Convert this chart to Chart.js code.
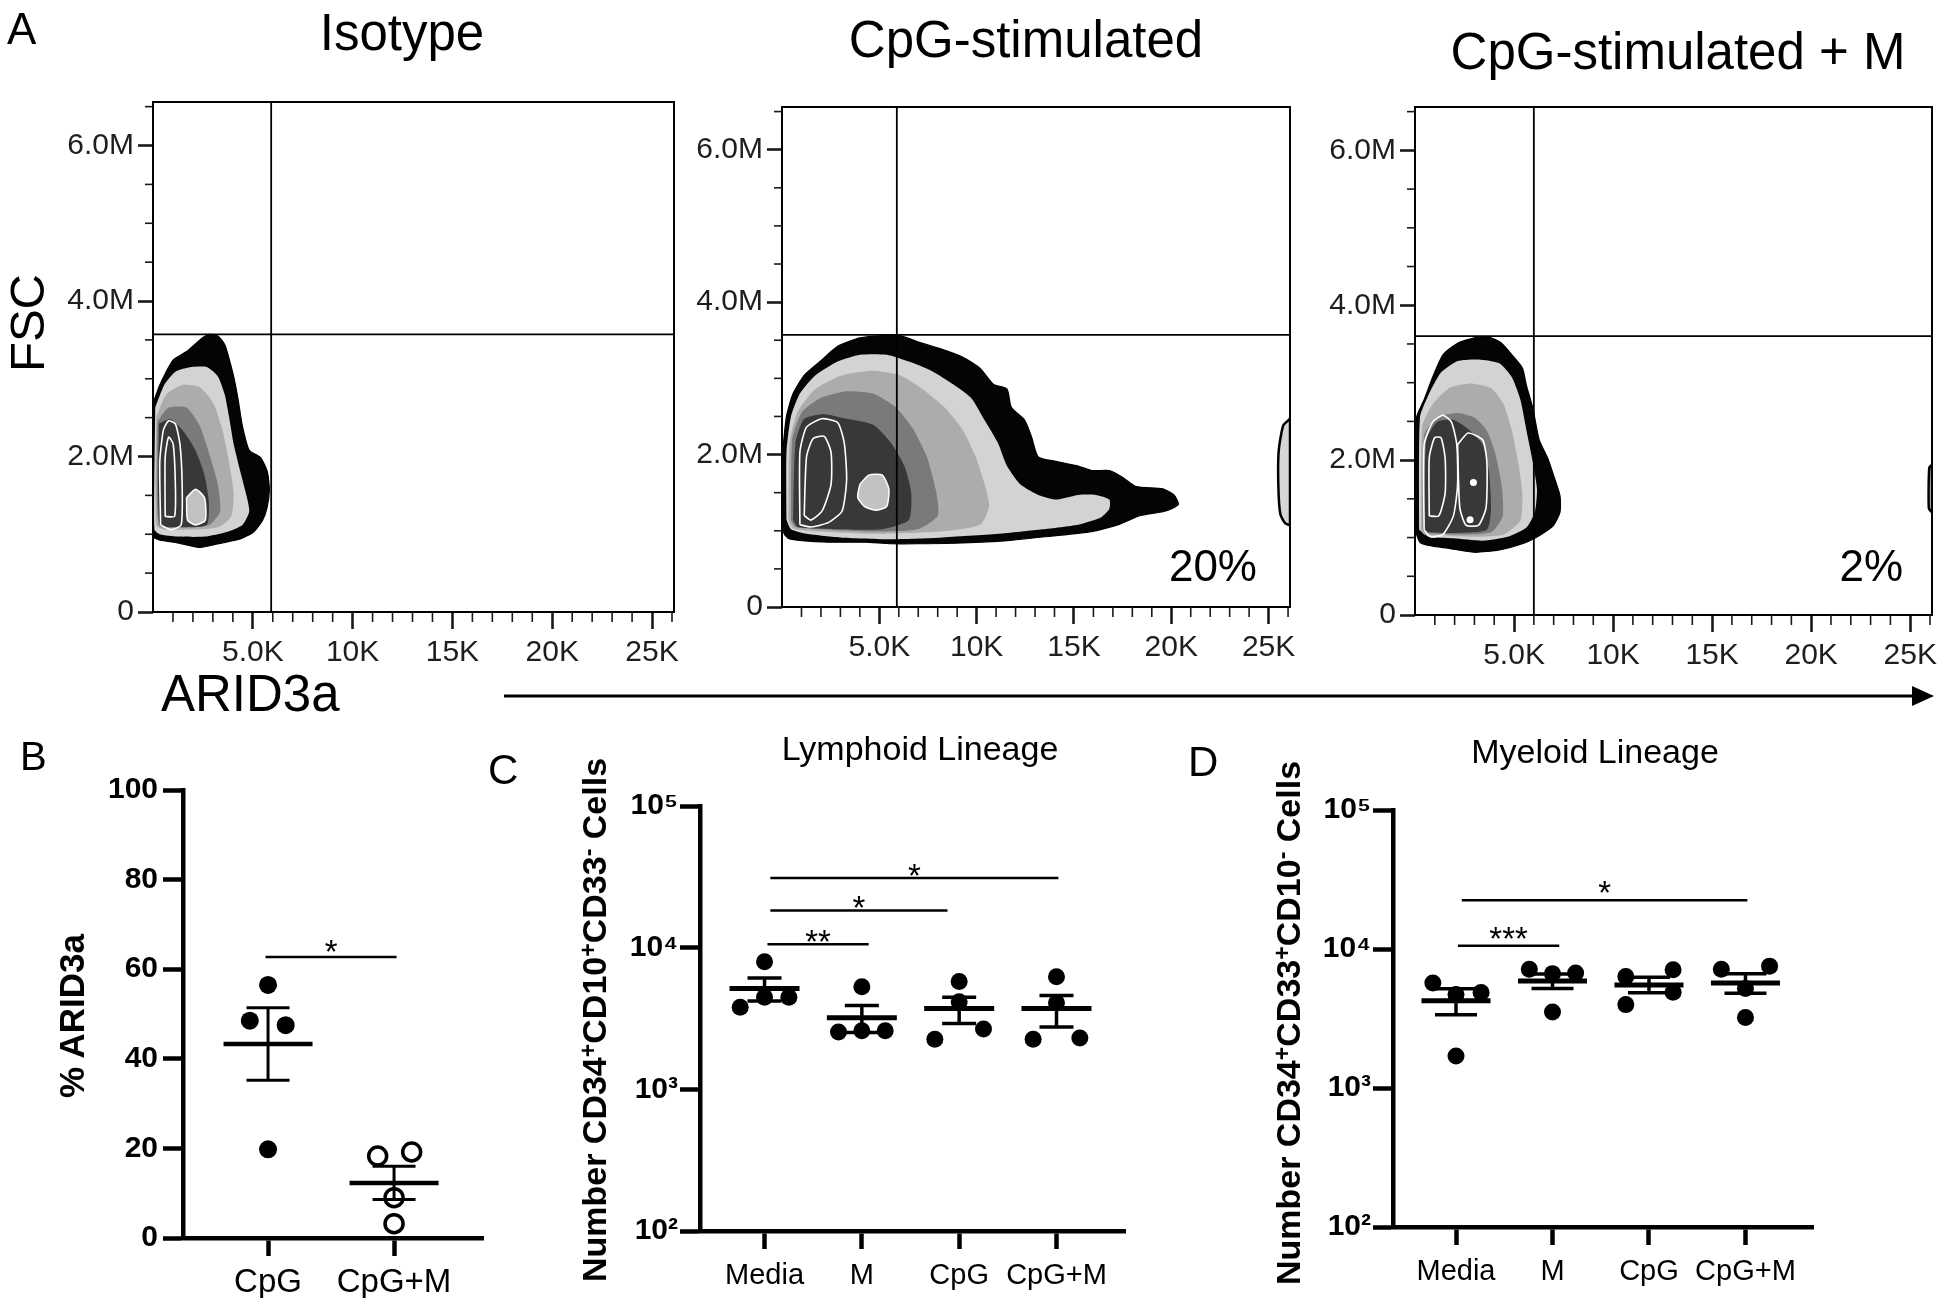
<!DOCTYPE html>
<html>
<head>
<meta charset="utf-8">
<script src="https://cdn.jsdelivr.net/npm/chart.js@4.4.1/dist/chart.umd.min.js"></script>
<style>
html,body{margin:0;padding:0;background:#fff;}
#page{position:relative;width:1950px;height:1304px;overflow:hidden;background:#fff;font-family:"Liberation Sans",Arial,Helvetica,sans-serif;}
canvas{position:absolute;z-index:1;}
.t{position:absolute;line-height:1;white-space:nowrap;color:#000;z-index:5;}
.sup{position:relative;top:-0.45em;font-size:0.68em;line-height:0;}
svg{position:absolute;left:0;top:0;z-index:4;pointer-events:none;}
</style>
</head>
<body>
<div id="page">
<canvas id="a1"></canvas><canvas id="a2"></canvas><canvas id="a3"></canvas>
<canvas id="b"></canvas><canvas id="c"></canvas><canvas id="d"></canvas>
<svg width="1950" height="1304"><line x1="504" y1="696" x2="1918" y2="696" stroke="#000" stroke-width="3"/><polygon points="1934,696 1912,686 1912,706" fill="#000"/></svg>
</div>
<script>
// ================= DATA =================
// Panel A (flow plots): axes
const aridTicks = [5, 10, 15, 20, 25];
const aridTickLabels = ['5.0K', '10K', '15K', '20K', '25K'];
const fscTicks = [0, 2, 4, 6];
const fscTickLabels = ['0', '2.0M', '4.0M', '6.0M'];
const aridMax = 26.1;   // K
const fscMax = 6.56;    // M
const gateArid = [5.92, 5.9, 6.0];
const gateFsc = [3.57, 3.57, 3.6];

// Isotype contours [ARID3a (K), FSC (M)]
const isoBlack = [[0,2.68],[0.34,2.92],[1.01,3.24],[1.68,3.35],[2.35,3.50],[2.80,3.57],[3.25,3.55],[3.59,3.44],[3.81,3.26],[4.04,3.03],[4.26,2.74],[4.48,2.39],[4.82,2.08],[5.38,1.99],[5.72,1.81],[5.83,1.58],[5.72,1.35],[5.49,1.18],[5.04,1.03],[4.37,0.94],[3.48,0.89],[2.35,0.83],[1.23,0.89],[0.45,0.92],[0,0.97]];
const isoL1 = [[0.11,2.63],[0.56,2.92],[1.12,3.09],[1.91,3.15],[2.69,3.15],[3.25,3.03],[3.59,2.80],[3.81,2.51],[4.04,2.16],[4.37,1.81],[4.71,1.47],[4.82,1.29],[4.48,1.12],[3.70,1.03],[2.58,0.97],[1.23,0.97],[0.34,1.00],[0.07,1.06]];
const isoL2 = [[0.16,2.51],[0.67,2.80],[1.46,2.92],[2.35,2.89],[3.03,2.68],[3.48,2.34],[3.81,1.93],[4.04,1.52],[3.92,1.23],[3.25,1.09],[1.91,1.06],[0.56,1.06],[0.16,1.12]];
const isoL3 = [[0.22,2.45],[0.78,2.63],[1.68,2.63],[2.35,2.39],[2.80,2.05],[3.25,1.64],[3.36,1.29],[2.80,1.12],[1.23,1.09],[0.29,1.12]];
const isoL4 = [[0.29,2.42],[0.90,2.48],[1.57,2.31],[2.13,2.08],[2.58,1.76],[2.80,1.41],[2.69,1.12],[1.23,1.09],[0.34,1.12]];
const isoW1 = [[0.38,1.12],[0.34,1.93],[0.52,2.34],[0.78,2.46],[1.12,2.42],[1.35,2.16],[1.46,1.64],[1.41,1.12],[0.90,1.06]];
const isoW2 = [[0.61,1.23],[0.61,1.99],[0.78,2.25],[1.01,2.16],[1.12,1.64],[1.08,1.23]];
const isoBlob = [[1.68,1.47],[2.13,1.58],[2.58,1.47],[2.62,1.18],[2.13,1.12],[1.73,1.18]];

// CpG-stimulated contours
const cpgBlack = [[0.05,1.08],[0.05,2.03],[0.23,2.50],[0.57,2.80],[1.14,3.04],[1.95,3.22],[2.86,3.42],[4.00,3.53],[5.15,3.56],[6.06,3.56],[6.98,3.48],[8.12,3.39],[9.27,3.28],[10.18,3.13],[10.87,2.92],[11.56,2.86],[11.78,2.62],[12.47,2.45],[12.81,2.24],[13.16,1.97],[14.07,1.91],[15.22,1.85],[15.90,1.79],[16.82,1.79],[17.51,1.70],[18.19,1.58],[19.57,1.55],[20.14,1.47],[20.37,1.35],[20.02,1.29],[19.57,1.25],[18.42,1.20],[17.28,1.08],[15.90,0.99],[13.84,0.93],[11.56,0.87],[9.27,0.84],[6.98,0.83],[5.61,0.83],[4.23,0.85],[2.40,0.85],[1.03,0.87],[0.34,0.90],[0.11,0.96]];
const cpgL1 = [[0.23,1.14],[0.23,2.03],[0.46,2.50],[0.92,2.80],[1.72,3.04],[2.86,3.22],[4.00,3.31],[5.38,3.31],[6.52,3.22],[7.67,3.10],[8.81,2.92],[9.73,2.74],[10.41,2.45],[11.10,2.15],[11.56,1.85],[12.24,1.61],[13.16,1.47],[14.07,1.41],[15.22,1.47],[16.13,1.47],[16.82,1.41],[16.82,1.29],[16.36,1.17],[15.22,1.08],[13.39,1.02],[11.10,0.96],[8.12,0.91],[5.61,0.89],[3.09,0.91],[1.26,0.96],[0.46,1.02]];
const cpgL2 = [[0.34,1.14],[0.39,2.15],[0.80,2.56],[1.72,2.86],[3.09,3.04],[4.69,3.10],[6.06,3.04],[7.21,2.86],[8.35,2.62],[9.27,2.33],[9.95,1.97],[10.41,1.61],[10.64,1.32],[10.18,1.08],[8.12,0.99],[4.69,0.96],[1.95,0.99],[0.57,1.03]];
const cpgL3 = [[0.46,1.14],[0.53,2.21],[1.03,2.56],[1.95,2.74],[3.32,2.83],[4.69,2.80],[5.84,2.62],[6.75,2.33],[7.44,1.97],[7.89,1.55],[8.01,1.20],[6.98,1.02],[4.69,0.99],[1.95,1.02],[0.69,1.05]];
const cpgL4 = [[0.57,1.14],[0.69,2.15],[1.14,2.47],[2.17,2.53],[3.32,2.47],[4.69,2.39],[5.61,2.15],[6.29,1.85],[6.64,1.50],[6.52,1.14],[5.15,1.02],[2.86,1.02],[0.80,1.05]];
const cpgW1 = [[0.92,1.08],[0.92,2.03],[1.26,2.36],[2.06,2.47],[2.86,2.42],[3.20,2.15],[3.32,1.67],[3.09,1.26],[2.40,1.11],[1.49,1.05]];
const cpgW2 = [[1.14,1.20],[1.26,1.97],[1.60,2.21],[2.17,2.24],[2.52,2.03],[2.52,1.61],[2.06,1.26],[1.49,1.14]];
const cpgBlob = [[4.00,1.61],[4.46,1.73],[5.15,1.73],[5.49,1.55],[5.38,1.32],[4.81,1.27],[4.23,1.32],[3.89,1.44]];
const cpgEdge = [[26.1,2.47],[25.75,2.38],[25.52,2.05],[25.5,1.6],[25.6,1.22],[25.85,1.1],[26.1,1.08]];

// CpG-stimulated + M contours
const cpgmBlack = [[0.08,1.04],[0.08,2.55],[0.46,2.78],[0.89,3.07],[1.41,3.36],[2.15,3.51],[3.00,3.58],[3.73,3.59],[4.37,3.51],[4.89,3.36],[5.42,3.19],[5.63,2.96],[5.95,2.67],[6.27,2.26],[6.69,2.03],[7.00,1.80],[7.32,1.54],[7.32,1.33],[7.00,1.16],[6.37,1.04],[5.53,0.93],[4.26,0.84],[3.00,0.81],[1.73,0.86],[0.68,0.90],[0.25,0.94]];
const cpgmL1 = [[0.21,1.10],[0.25,2.55],[0.68,2.84],[1.31,3.13],[2.15,3.28],[3.21,3.30],[4.26,3.25],[4.89,3.07],[5.32,2.78],[5.63,2.38],[5.95,1.97],[6.16,1.62],[6.05,1.33],[5.63,1.13],[4.68,1.01],[3.42,0.96],[1.94,0.99],[0.68,1.01]];
const cpgmL2 = [[0.30,1.10],[0.36,2.43],[0.89,2.72],[1.73,2.93],[2.78,2.99],[3.84,2.93],[4.47,2.72],[4.89,2.38],[5.21,1.97],[5.42,1.57],[5.32,1.22],[4.47,1.04],[3.00,1.01],[1.31,1.03],[0.46,1.04]];
const cpgmL3 = [[0.38,1.10],[0.46,2.32],[1.10,2.55],[2.15,2.61],[3.00,2.55],[3.63,2.38],[4.05,2.09],[4.37,1.68],[4.43,1.28],[3.84,1.07],[2.15,1.04],[0.57,1.06]];
const cpgmL4 = [[0.46,1.10],[0.57,2.26],[1.10,2.49],[1.94,2.52],[2.78,2.38],[3.42,2.20],[3.73,1.86],[3.84,1.39],[3.63,1.10],[2.15,1.06],[0.68,1.07]];
const cpgmW1 = [[0.46,1.10],[0.46,2.20],[0.89,2.49],[1.41,2.58],[1.84,2.49],[2.11,2.20],[2.15,1.68],[1.94,1.28],[1.41,1.04],[0.78,1.01]];
const cpgmW2 = [[0.72,1.28],[0.72,2.03],[0.99,2.29],[1.31,2.29],[1.52,2.03],[1.52,1.57],[1.20,1.28]];
const cpgmW3 = [[2.15,2.20],[2.68,2.35],[3.42,2.26],[3.63,1.97],[3.59,1.39],[3.21,1.16],[2.57,1.16],[2.26,1.39]];
const cpgmDots = [[2.95,1.71],[2.78,1.23]];
const cpgmEdge = [[26.1,1.94],[25.96,1.90],[25.94,1.38],[26.1,1.33]];

// Panel B: % ARID3a
const bGroups = ['CpG', 'CpG+M'];
const bTicks = [0, 20, 40, 60, 80, 100];
const bCpG = [56.5, 48.5, 47.5, 19.8];
const bCpGJitter = [0, -0.145, 0.14, 0];
const bCpGM = [18.3, 19.2, 9.0, 3.2];
const bCpGMJitter = [-0.13, 0.14, 0, 0];
const bMean = [43.3, 12.3];
const bSemHi = [51.4, 16.0];
const bSemLo = [35.2, 8.6];
const bSigFrom = [-0.02], bSigTo = [1.02], bSigY = [62.7], bSigLabel = ['*'];

// Panel C: Lymphoid lineage (cells)
const cdGroups = ['Media', 'M', 'CpG', 'CpG+M'];
const cdTicks = [100, 1000, 10000, 100000];
const cdTickLabels = ['10\u00B2', '10\u00B3', '10\u2074', '10\u2075'];
const cMedia = [7940, 3790, 4470, 4470];
const cM = [5290, 2540, 2590, 2590];
const cCpG = [5770, 4150, 2260, 2670];
const cCpGM = [6230, 4080, 2260, 2300];
const cJitter = [[0, -0.25, 0, 0.25], [0, -0.24, 0, 0.24], [0, 0, -0.25, 0.25], [0, 0, -0.24, 0.24]];
const cMean = [5140, 3200, 3720, 3720];
const cSemHi = [6120, 3910, 4470, 4600];
const cSemLo = [4210, 2520, 2920, 2750];
const cSigFrom = [0.03, 0.06, 0.06], cSigTo = [1.07, 1.88, 3.02], cSigY = [10570, 18330, 31050], cSigLabel = ['**', '*', '*'];

// Panel D: Myeloid lineage (cells)
const dMedia = [5700, 4710, 4860, 1700];
const dM = [7160, 6650, 6730, 3520];
const dCpG = [6340, 7080, 4890, 3980];
const dCpGM = [7160, 7530, 5200, 3210];
const dJitter = [[-0.24, 0, 0.26, 0], [-0.24, 0, 0.24, 0], [-0.24, 0.25, 0.25, -0.24], [-0.25, 0.25, 0, 0]];
const dMean = [4240, 5880, 5500, 5700];
const dSemHi = [5170, 6610, 6250, 6650];
const dSemLo = [3370, 5200, 4850, 4800];
const dSigFrom = [0.02, 0.06], dSigTo = [1.07, 3.02], dSigY = [10570, 22440], dSigLabel = ['***', '*'];

// ================= RENDERING =================
Chart.defaults.font.family = '"Liberation Sans", Arial, Helvetica, sans-serif';
Chart.defaults.animation = false;
Chart.defaults.plugins.legend.display = false;
Chart.defaults.plugins.tooltip.enabled = false;

const page = document.getElementById('page');

function setupCanvas(id, r) {
  const c = document.getElementById(id);
  c.width = r.w; c.height = r.h;
  c.style.left = r.x + 'px'; c.style.top = r.y + 'px';
  c.style.width = r.w + 'px'; c.style.height = r.h + 'px';
  return c;
}

function poly(pts, fill, stroke, bw, order, doFill) {
  return {
    type: 'line',
    data: pts.concat([pts[0]]).map(p => ({x: p[0], y: p[1]})),
    backgroundColor: fill, borderColor: stroke, borderWidth: bw,
    fill: doFill ? 'shape' : false, pointRadius: 0, tension: 0.2, order: order
  };
}

function strokeLine(ctx, x1, y1, x2, y2) { ctx.beginPath(); ctx.moveTo(x1, y1); ctx.lineTo(x2, y2); ctx.stroke(); }

const flowDecor = {
  id: 'flowDecor',
  afterDraw(chart) {
    const {ctx, chartArea: a, scales: {x, y}} = chart;
    ctx.save();
    ctx.strokeStyle = '#000'; ctx.lineWidth = 2;
    ctx.strokeRect(a.left, a.top, a.right - a.left, a.bottom - a.top);
    ctx.strokeStyle = '#1a1a1a'; ctx.lineWidth = 1.6;
    for (let v = 1; v <= aridMax; v += 1) {
      if (v % 5 === 0) continue;
      const px = x.getPixelForValue(v);
      strokeLine(ctx, px, a.bottom, px, a.bottom + 10);
    }
    for (let v = 0.5; v <= fscMax; v += 0.5) {
      if (v % 2 === 0) continue;
      const py = y.getPixelForValue(v);
      strokeLine(ctx, a.left, py, a.left - 8, py);
    }
    ctx.restore();
  }
};

function flowChart(id, rect, box, parts, gX, gY) {
  const c = setupCanvas(id, rect);
  const padL = 6, padB = 6;
  const wy = box.left - rect.x - padL;
  const hx = rect.y + rect.h - box.bottom - padB;
  const ds = [];
  const levels = [['black', '#040404', '#000', 1.2, 10], ['l1', '#d3d3d3', '#d3d3d3', 0, 9], ['l2', '#acacac', '#acacac', 0, 8], ['l3', '#7a7a7a', '#7a7a7a', 0, 7], ['l4', '#383838', '#383838', 0, 6]];
  levels.forEach(L => { if (parts[L[0]]) ds.push(poly(parts[L[0]], L[1], L[2], L[3], L[4], true)); });
  (parts.blobs || []).forEach(b => ds.push(poly(b, '#c2c2c2', '#ffffff', 1.5, 5, true)));
  (parts.loops || []).forEach(l => ds.push(poly(l, 'rgba(0,0,0,0)', '#ffffff', 1.6, 4, false)));
  (parts.edges || []).forEach(e => ds.push(poly(e, '#d6d6d6', '#000', 2.5, 5, true)));
  if (parts.dots) ds.push({type: 'scatter', data: parts.dots.map(p => ({x: p[0], y: p[1]})), pointRadius: 3.5, backgroundColor: '#fff', borderWidth: 0, order: 3});
  ds.push({type: 'line', data: [{x: gX, y: 0}, {x: gX, y: fscMax}], borderColor: '#000', borderWidth: 1.8, pointRadius: 0, fill: false, order: -5});
  ds.push({type: 'line', data: [{x: 0, y: gY}, {x: aridMax, y: gY}], borderColor: '#000', borderWidth: 1.8, pointRadius: 0, fill: false, order: -5});
  new Chart(c, {
    type: 'scatter',
    data: {datasets: ds},
    options: {
      responsive: false, devicePixelRatio: 1, events: [],
      layout: {autoPadding: false, padding: {left: padL, top: box.top - rect.y, right: rect.x + rect.w - box.right, bottom: padB}},
      scales: {
        x: {
          type: 'linear', min: 0, max: aridMax,
          afterBuildTicks: s => { s.ticks = aridTicks.map(v => ({value: v})); },
          afterFit: s => { s.height = hx; },
          ticks: {callback: (v, i) => aridTickLabels[i], font: {size: 30}, color: '#1e1e1e', padding: 6, autoSkip: false, maxRotation: 0},
          grid: {drawOnChartArea: false, drawTicks: true, tickLength: 17, tickWidth: 2.6, tickColor: '#1a1a1a'},
          border: {display: false}
        },
        y: {
          type: 'linear', min: 0, max: fscMax,
          afterBuildTicks: s => { s.ticks = fscTicks.map(v => ({value: v})); },
          afterFit: s => { s.width = wy; },
          ticks: {callback: (v, i) => fscTickLabels[i], font: {size: 30}, color: '#1e1e1e', padding: 4, autoSkip: false},
          grid: {drawOnChartArea: false, drawTicks: true, tickLength: 15, tickWidth: 2.6, tickColor: '#1a1a1a'},
          border: {display: false}
        }
      }
    },
    plugins: [flowDecor]
  });
}

flowChart('a1', {x: 50, y: 80, w: 650, h: 600}, {left: 153, top: 92, right: 674, bottom: 612},
  {black: isoBlack, l1: isoL1, l2: isoL2, l3: isoL3, l4: isoL4, blobs: [isoBlob], loops: [isoW1, isoW2]}, gateArid[0], gateFsc[0]);
flowChart('a2', {x: 685, y: 85, w: 635, h: 590}, {left: 782, top: 99, right: 1290, bottom: 607},
  {black: cpgBlack, l1: cpgL1, l2: cpgL2, l3: cpgL3, l4: cpgL4, blobs: [cpgBlob], loops: [cpgW1, cpgW2], edges: [cpgEdge]}, gateArid[1], gateFsc[1]);
flowChart('a3', {x: 1318, y: 85, w: 632, h: 595}, {left: 1415, top: 99, right: 1932, bottom: 615},
  {black: cpgmBlack, l1: cpgmL1, l2: cpgmL2, l3: cpgmL3, l4: cpgmL4, loops: [cpgmW1, cpgmW2, cpgmW3], dots: cpgmDots, edges: [cpgmEdge]}, gateArid[2], gateFsc[2]);

function statsPlugin(cfg) {
  return {
    id: 'stats',
    afterDatasetsDraw(chart) {
      const {ctx, scales: {x, y}} = chart;
      ctx.save(); ctx.strokeStyle = '#000'; ctx.lineCap = 'butt';
      cfg.mean.forEach((m, i) => {
        const px = x.getPixelForValue(i);
        const pm = y.getPixelForValue(m), ph = y.getPixelForValue(cfg.hi[i]), pl = y.getPixelForValue(cfg.lo[i]);
        ctx.lineWidth = cfg.semW;
        strokeLine(ctx, px, ph, px, pl);
        strokeLine(ctx, px - cfg.capHalf, ph, px + cfg.capHalf, ph);
        strokeLine(ctx, px - cfg.capHalf, pl, px + cfg.capHalf, pl);
        ctx.lineWidth = cfg.meanW;
        strokeLine(ctx, px - cfg.meanHalf, pm, px + cfg.meanHalf, pm);
      });
      ctx.lineWidth = 2.5;
      ctx.fillStyle = '#000';
      ctx.font = '33px "Liberation Sans", Arial, sans-serif';
      ctx.textAlign = 'center'; ctx.textBaseline = 'alphabetic';
      cfg.sigY.forEach((v, i) => {
        const x1 = x.getPixelForValue(cfg.sigFrom[i]), x2 = x.getPixelForValue(cfg.sigTo[i]);
        const py = y.getPixelForValue(v);
        strokeLine(ctx, x1, py, x2, py);
        ctx.fillText(cfg.sigLabel[i], (x1 + x2) / 2, py + 19 - cfg.starRaise);
      });
      ctx.restore();
    }
  };
}

function dotChart(id, rect, box, cfg) {
  const c = setupCanvas(id, rect);
  const padL = 10;
  const wy = box.left - rect.x - padL;
  const hx = rect.y + rect.h - box.bottom - cfg.padB;
  const yScale = {
    type: cfg.yType, min: cfg.yMin, max: cfg.yMax,
    afterBuildTicks: s => { s.ticks = cfg.yTicks.map(v => ({value: v})); },
    afterFit: s => { s.width = wy; },
    ticks: {callback: (v, i) => cfg.yLabels[i], font: {size: 30, weight: 'bold'}, color: '#000', padding: cfg.yPad, autoSkip: false},
    grid: {drawOnChartArea: false, drawTicks: true, tickLength: 20, tickWidth: 4.5, tickColor: '#000'},
    border: {display: true, width: 4.5, color: '#000'}
  };
  new Chart(c, {
    type: 'scatter',
    data: {datasets: cfg.datasets},
    options: {
      responsive: false, devicePixelRatio: 1, events: [],
      layout: {autoPadding: false, padding: {left: padL, top: box.top - rect.y, right: rect.x + rect.w - box.right, bottom: cfg.padB}},
      scales: {
        x: {
          type: 'linear', min: cfg.xMin, max: cfg.xMax,
          afterBuildTicks: s => { s.ticks = cfg.groups.map((g, i) => ({value: i})); },
          afterFit: s => { s.height = hx; },
          ticks: {callback: (v, i) => cfg.groups[i], font: {size: cfg.xFont}, color: '#000', padding: cfg.xPad, autoSkip: false, maxRotation: 0},
          grid: {drawOnChartArea: false, drawTicks: true, tickLength: 18, tickWidth: 4.5, tickColor: '#000'},
          border: {display: true, width: 4.5, color: '#000'}
        },
        y: yScale
      }
    },
    plugins: [statsPlugin(cfg)]
  });
}

function pts(vals, jit, gi) { return vals.map((v, i) => ({x: gi + jit[i], y: v})); }
function filled(data, r) { return {data: data, pointRadius: r, backgroundColor: '#000', borderColor: '#000', borderWidth: 0}; }

dotChart('b', {x: 0, y: 755, w: 520, h: 549}, {left: 183, top: 790, right: 483, bottom: 1238}, {
  groups: bGroups, yType: 'linear', yMin: 0, yMax: 100, yTicks: bTicks, yLabels: bTicks.map(String), yPad: 5,
  xMin: -0.675, xMax: 1.706, xFont: 33, xPad: 7, padB: 6,
  datasets: [
    filled(pts(bCpG, bCpGJitter, 0), 9),
    {data: pts(bCpGM, bCpGMJitter, 1), pointRadius: 9, backgroundColor: '#fff', borderColor: '#000', borderWidth: 3.5}
  ],
  mean: bMean, hi: bSemHi, lo: bSemLo, meanHalf: 44.5, capHalf: 21.5, meanW: 4.5, semW: 3,
  sigFrom: bSigFrom, sigTo: bSigTo, sigY: bSigY, sigLabel: bSigLabel, starRaise: 13
});

dotChart('c', {x: 600, y: 770, w: 560, h: 534}, {left: 700, top: 806, right: 1125, bottom: 1231}, {
  groups: cdGroups, yType: 'logarithmic', yMin: 100, yMax: 100000, yTicks: cdTicks, yLabels: cdTickLabels, yPad: 2,
  xMin: -0.663, xMax: 3.704, xFont: 29, xPad: 10, padB: 8,
  datasets: [cMedia, cM, cCpG, cCpGM].map((s, gi) => filled(pts(s, cJitter[gi], gi), 8.5)),
  mean: cMean, hi: cSemHi, lo: cSemLo, meanHalf: 35, capHalf: 17, meanW: 5, semW: 3.5,
  sigFrom: cSigFrom, sigTo: cSigTo, sigY: cSigY, sigLabel: cSigLabel, starRaise: 10
});

dotChart('d', {x: 1290, y: 770, w: 560, h: 534}, {left: 1393, top: 810, right: 1813, bottom: 1227}, {
  groups: cdGroups, yType: 'logarithmic', yMin: 100, yMax: 100000, yTicks: cdTicks, yLabels: cdTickLabels, yPad: 2,
  xMin: -0.653, xMax: 3.70, xFont: 29, xPad: 10, padB: 8,
  datasets: [dMedia, dM, dCpG, dCpGM].map((s, gi) => filled(pts(s, dJitter[gi], gi), 8.5)),
  mean: dMean, hi: dSemHi, lo: dSemLo, meanHalf: 34.5, capHalf: 21, meanW: 5, semW: 3.5,
  sigFrom: dSigFrom, sigTo: dSigTo, sigY: dSigY, sigLabel: dSigLabel, starRaise: 15
});

// ================= TEXT =================
function addText(html, o) {
  const d = document.createElement('div');
  d.className = 't'; d.innerHTML = html;
  d.style.fontSize = o.size + 'px';
  if (o.bold) d.style.fontWeight = 'bold';
  if (o.rotate) {
    d.style.left = o.cx + 'px'; d.style.top = o.cy + 'px';
    d.style.transform = 'translate(-50%,-50%) rotate(-90deg)';
  } else {
    d.style.top = (o.base - 0.8465 * o.size) + 'px';
    if (o.align === 'center') { d.style.left = o.x + 'px'; d.style.transform = 'translateX(-50%)'; }
    else if (o.align === 'right') { d.style.right = (1950 - o.x) + 'px'; }
    else d.style.left = o.x + 'px';
  }
  page.appendChild(d);
}
const S = t => '<span class="sup">' + t + '</span>';
addText('A', {x: 7, base: 44, size: 44});
addText('Isotype', {x: 402, base: 50, size: 51, align: 'center'});
addText('CpG-stimulated', {x: 1026, base: 57, size: 51, align: 'center'});
addText('CpG-stimulated + M', {x: 1678, base: 69, size: 51, align: 'center'});
addText('FSC', {rotate: true, cx: 27, cy: 323, size: 49});
addText('ARID3a', {x: 161, base: 711, size: 51});
addText('20%', {x: 1257, base: 581, size: 44, align: 'right'});
addText('2%', {x: 1903, base: 581, size: 44, align: 'right'});
addText('B', {x: 20, base: 770, size: 40});
addText('% ARID3a', {rotate: true, cx: 71, cy: 1016, size: 35, bold: true});
addText('C', {x: 488, base: 785, size: 42});
addText('Lymphoid Lineage', {x: 920, base: 760, size: 34, align: 'center'});
addText('Number CD34' + S('+') + 'CD10' + S('+') + 'CD33' + S('-') + ' Cells', {rotate: true, cx: 594, cy: 1020, size: 34, bold: true});
addText('D', {x: 1188, base: 777, size: 42});
addText('Myeloid Lineage', {x: 1595, base: 763, size: 34, align: 'center'});
addText('Number CD34' + S('+') + 'CD33' + S('+') + 'CD10' + S('-') + ' Cells', {rotate: true, cx: 1288, cy: 1023, size: 34, bold: true});
</script>
</body>
</html>
